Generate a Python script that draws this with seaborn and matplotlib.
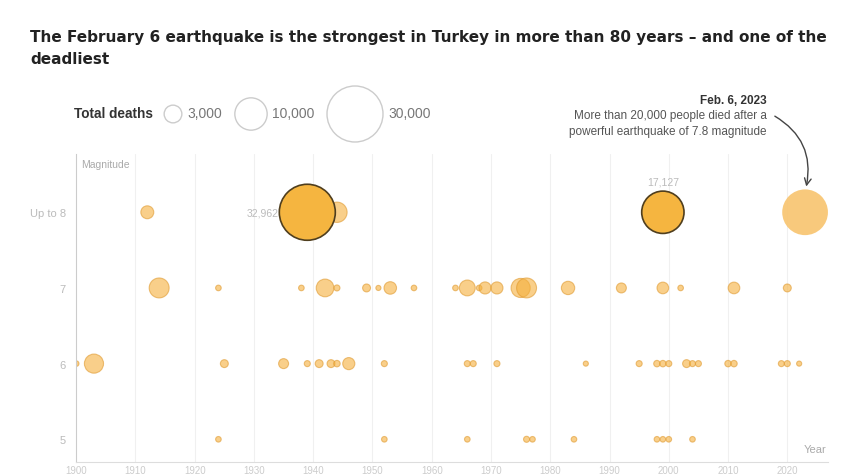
import pandas as pd
import matplotlib.pyplot as plt
import seaborn as sns

# Turkey earthquakes since 1900, by magnitude row (deaths)
years_8 = [1912, 1939, 1944, 1999, 2023]
deaths_8 = [1600, 32962, 3959, 17127, 20000]

years_7 = [1914, 1924, 1938, 1942, 1944, 1949, 1951, 1953, 1957, 1964, 1966, 1968,
           1969, 1971, 1975, 1976, 1983, 1992, 1999, 2002, 2011, 2020]
deaths_7 = [3800, 300, 300, 3000, 350, 600, 250, 1500, 300, 300, 2400, 300,
            1400, 1400, 3500, 3800, 1700, 950, 1300, 300, 1300, 600]

years_6 = [1900, 1903, 1925, 1935, 1939, 1941, 1943, 1944, 1946, 1952, 1966, 1967, 1971,
           1986, 1995, 1998, 1999, 2000, 2003, 2004, 2005, 2010, 2011, 2019, 2020, 2022]
deaths_6 = [300, 3500, 600, 950, 350, 600, 600, 400, 1400, 350, 350, 350, 350,
            250, 350, 400, 400, 350, 600, 350, 350, 400, 400, 350, 350, 250]

years_5 = [1924, 1952, 1966, 1976, 1977, 1984, 1998, 1999, 2000, 2004]
deaths_5 = [300, 300, 300, 350, 300, 300, 300, 300, 300, 300]

highlight_years = [1939, 1999]   # outlined bubbles in the top row
latest_year = 2023

mag_ticks = [8, 7, 6, 5]
mag_labels = ["Up to 8", "7", "6", "5"]
decades = list(range(1900, 2030, 10))

legend_values = [3000, 10000, 30000]
legend_labels = ["3,000", "10,000", "30,000"]

# Build table
rows = []
for mag, ys, ds in [(8, years_8, deaths_8), (7, years_7, deaths_7),
                    (6, years_6, deaths_6), (5, years_5, deaths_5)]:
    for y, d in zip(ys, ds):
        if mag == 8 and y == latest_year:
            grp = "latest"
        elif mag == 8 and y in highlight_years:
            grp = "highlight"
        else:
            grp = "other"
        rows.append({"year": y, "magnitude": mag, "deaths": d, "group": grp})
df = pd.DataFrame(rows)

sns.set_theme(style="white")
plt.rcParams["font.family"] = ["Liberation Sans", "DejaVu Sans"]

# area proportional to deaths: 30,000 -> radius 28 px
size_kw = dict(sizes=(0, 1626), size_norm=(0, 30000), legend=False)

fig = plt.figure(figsize=(8.5, 4.77), dpi=100)
ax = fig.add_axes([75.6 / 850, 14 / 477, 752 / 850, 308 / 477])

for x in decades[1:]:
    ax.axvline(x, color="#f0f0f0", lw=0.8, zorder=0)

sns.scatterplot(data=df[df["group"] == "other"], x="year", y="magnitude", size="deaths",
                color="#F5B03C", alpha=0.6, edgecolor="#E09A30", linewidth=0.8,
                ax=ax, zorder=2, **size_kw)
sns.scatterplot(data=df[df["group"] == "latest"], x="year", y="magnitude", size="deaths",
                color="#F8C46E", alpha=0.9, edgecolor="none", linewidth=0,
                ax=ax, zorder=3, **size_kw)
sns.scatterplot(data=df[df["group"] == "highlight"], x="year", y="magnitude", size="deaths",
                color="#F5B540", alpha=1.0, edgecolor="#4F3E1E", linewidth=1.2,
                ax=ax, zorder=4, **size_kw)

ax.set_xlim(1899.9, 2026.8)
ax.set_ylim(4.70, 8.77)
ax.set_xticks(decades)
ax.set_xticklabels([str(d) for d in decades], color="#cccccc", fontsize=7)
ax.set_yticks(mag_ticks)
ax.set_yticklabels(mag_labels, color="#bbbbbb", fontsize=8)
ax.tick_params(axis="both", length=0)
ax.tick_params(axis="x", pad=2.5)
ax.tick_params(axis="y", pad=7)
ax.set_xlabel("")
ax.set_ylabel("")
for s in ["top", "right"]:
    ax.spines[s].set_visible(False)
ax.spines["left"].set_color("#cccccc")
ax.spines["bottom"].set_color("#dddddd")
ax.spines["left"].set_linewidth(0.8)
ax.spines["bottom"].set_linewidth(0.8)

ax.text(0.008, 0.985, "Magnitude", transform=ax.transAxes, fontsize=7.5,
        color="#aaaaaa", va="top", ha="left")
ax.text(0.998, 0.026, "Year", transform=ax.transAxes, fontsize=8,
        color="#aaaaaa", va="bottom", ha="right")

# value labels on highlighted bubbles
ax.text(1934.2, 8.0, "32,962", fontsize=7.5, color="#bbbbbb", ha="right", va="center")
ax.text(1999, 8.41, "17,127", fontsize=7.5, color="#bbbbbb", ha="center", va="center")

# annotation for 2023
ax.text(2016.5, 9.49, "Feb. 6, 2023", fontsize=8.5, fontweight="bold", color="#333333",
        ha="right", va="center", clip_on=False)
ax.text(2016.5, 9.28, "More than 20,000 people died after a", fontsize=8.5, color="#555555",
        ha="right", va="center", clip_on=False)
ax.text(2016.5, 9.07, "powerful earthquake of 7.8 magnitude", fontsize=8.5, color="#555555",
        ha="right", va="center", clip_on=False)
ax.annotate("", xy=(2023.2, 8.34), xytext=(2017.9, 9.27), annotation_clip=False,
            arrowprops=dict(arrowstyle="->", color="#444444", lw=1,
                            connectionstyle="arc3,rad=-0.35", shrinkA=0, shrinkB=0))

# size legend
lax = fig.add_axes([0, 1 - 140 / 477, 1, 50 / 477])
lax.set_xlim(0, 850)
lax.set_ylim(0, 50)
lax.axis("off")
leg = pd.DataFrame({"x": [173, 251, 355], "y": [25, 25, 25], "deaths": legend_values})
sns.scatterplot(data=leg, x="x", y="y", size="deaths", color="white",
                edgecolor="#cccccc", linewidth=1, ax=lax, **size_kw)
for coll in lax.collections:
    coll.set_clip_on(False)
lax.text(74, 26, "Total deaths", fontsize=9.8, fontweight="bold", color="#333333", va="center")
for x, lab in zip([187, 272, 388], legend_labels):
    lax.text(x, 26, lab, fontsize=10, color="#777777", va="center")

fig.text(30 / 850, 1 - 30 / 477,
         "The February 6 earthquake is the strongest in Turkey in more than 80 years \u2013 and one of the\ndeadliest",
         fontsize=11, fontweight="bold", color="#222222", va="top", ha="left",
         linespacing=1.55, family=["DejaVu Sans"])

fig.savefig("out.png", dpi=100)
